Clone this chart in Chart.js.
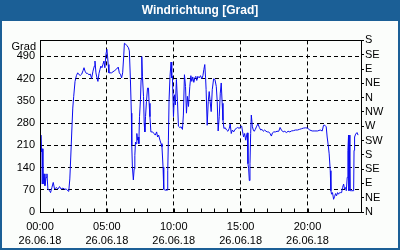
<!DOCTYPE html>
<html>
<head>
<meta charset="utf-8">
<script src="https://cdn.jsdelivr.net/npm/chart.js@4.4.0/dist/chart.umd.min.js"></script>
<style>
  html, body { margin: 0; padding: 0; background: #1b5f96; }
  #wrap { width: 400px; height: 250px; }
</style>
</head>
<body>
<div id="wrap"><canvas id="windChart" width="400" height="250"></canvas></div>
<script>
'use strict';

// time of day in hours (26.06.18) and wind direction in degrees
const hours = [
  0.00, 0.07, 0.12, 0.17, 0.22, 0.30, 0.37, 0.45, 0.52, 0.59, 0.72, 0.79, 0.89, 0.99, 1.09, 1.21, 1.34, 1.46, 1.58, 1.71,
  1.83, 1.96, 2.08, 2.15, 2.23, 2.30, 2.38, 2.45, 2.52, 2.62, 2.72, 2.82, 2.92, 3.02, 3.12, 3.22, 3.29, 3.37, 3.47, 3.56,
  3.66, 3.76, 3.86, 3.96, 4.06, 4.11, 4.18, 4.26, 4.33, 4.41, 4.48, 4.55, 4.63, 4.70, 4.78, 4.85, 4.93, 5.00,
  5.05, 5.10, 5.15, 5.35, 5.55, 5.73, 5.85, 5.93, 6.03, 6.10, 6.18, 6.26, 6.31, 6.41, 6.51, 6.61, 6.68, 6.76, 6.83, 6.86,
  6.91, 6.98, 7.04, 7.09, 7.14, 7.19, 7.24, 7.29, 7.34, 7.39, 7.44, 7.51, 7.56, 7.61, 7.66, 7.74, 7.79, 7.84, 7.89, 7.96,
  8.04, 8.11, 8.16, 8.22, 8.29, 8.42, 8.52, 8.62, 8.72, 8.79, 8.87, 8.97, 9.05, 9.12, 9.20, 9.25, 9.32, 9.42, 9.50, 9.55,
  9.60, 9.65, 9.72, 9.80, 9.85, 9.90,
  9.98, 10.05, 10.12, 10.20, 10.28, 10.35, 10.45, 10.55, 10.65, 10.72, 10.80, 10.88, 10.95, 11.02, 11.10, 11.20, 11.28,
  11.35, 11.42, 11.50, 11.58, 11.65, 11.72, 11.80, 11.90, 12.00, 12.10, 12.18, 12.25, 12.32, 12.38, 12.42, 12.50, 12.58,
  12.65, 12.72, 12.80, 12.88, 12.98, 13.08, 13.18, 13.25, 13.32, 13.40, 13.48, 13.55, 13.62, 13.68, 13.75, 13.85, 13.95,
  14.05, 14.15, 14.22, 14.30, 14.38, 14.48, 14.58, 14.68, 14.78, 14.90,
  15.02, 15.08, 15.15, 15.22, 15.30, 15.38, 15.45, 15.50, 15.55, 15.60, 15.65, 15.70, 15.75, 15.80, 15.88, 15.95, 16.02,
  16.10, 16.20, 16.30, 16.40, 16.50, 16.60, 16.70, 16.80, 16.90, 17.00, 17.10, 17.20, 17.30, 17.38, 17.48, 17.60, 17.72,
  17.85, 17.95, 18.05, 18.18, 18.30, 18.42, 18.55, 18.68, 18.80, 18.95, 19.10, 19.25, 19.40, 19.55, 19.70, 19.85, 20.00,
  20.17, 20.35, 20.55, 20.75, 20.95, 21.10, 21.20, 21.30, 21.40, 21.47, 21.55, 21.62, 21.70, 21.75, 21.80, 21.87, 21.95,
  22.02, 22.10, 22.17, 22.25, 22.32, 22.40, 22.47, 22.55, 22.62, 22.70, 22.77, 22.85, 22.90, 22.97, 23.02, 23.07, 23.10,
  23.17, 23.20, 23.30, 23.45, 23.48, 23.52, 23.60, 23.70, 23.78
];
const degrees = [
  88, 242, 189, 199, 88, 120, 83, 109, 120, 72, 67, 61, 77, 93, 72, 77, 72, 80, 72, 75,
  72, 72, 67, 65, 104, 173, 258, 327, 364, 411, 429, 438, 432, 430, 434, 445, 454, 443, 436, 436,
  432, 434, 420, 443, 459, 475, 438, 422, 411, 436, 448, 459, 454, 464, 475, 454, 496, 512,
  491, 464, 438, 438, 444, 450, 456, 438, 432, 422, 438, 491, 531, 528, 523, 517, 507, 417, 311, 210,
  141, 101, 136, 178, 220, 215, 247, 226, 236, 215, 300, 353, 417, 489, 427, 364, 279, 252, 300, 348,
  390, 390, 342, 300, 252, 252, 247, 242, 252, 236, 242, 226, 215, 205, 141, 72, 69, 69, 69, 130,
  226, 353, 427, 472, 422, 427,
  300, 369, 337, 417, 348, 270, 266, 268, 260, 305, 432, 395, 311, 364, 332, 395, 429,
  411, 425, 408, 422, 427, 414, 427, 422, 429, 419, 429, 448, 464, 422, 385, 273, 348,
  379, 348, 316, 385, 419, 417, 395, 348, 255, 300, 374, 406, 342, 289, 263, 265, 258,
  254, 263, 277, 247, 258, 252, 260, 263, 266, 263,
  270, 270, 252, 236, 247, 226, 242, 249, 152, 136, 99, 152, 247, 305, 268, 258, 254,
  260, 270, 277, 266, 258, 260, 254, 258, 254, 252, 252, 247, 239, 249, 252, 252, 254,
  254, 266, 258, 252, 254, 250, 254, 252, 255, 256, 258, 258, 260, 262, 264, 265, 264,
  258, 255, 255, 255, 258, 255, 273, 273, 268, 236, 210, 183, 130, 67, 56, 61, 40,
  48, 58, 51, 61, 56, 61, 61, 61, 77, 88, 72, 77, 67, 109, 194, 242, 67,
  242, 67, 67, 67, 194, 236, 245, 250, 242
];

const leftTicks = [0, 70, 140, 210, 280, 350, 420, 490];
const rightTicks = [0, 45, 90, 135, 180, 225, 270, 315, 360, 405, 450, 495, 540];
const rightLabels = ['N', 'NE', 'E', 'SE', 'S', 'SW', 'W', 'NW', 'N', 'NE', 'E', 'SE', 'S'];
const timeLabels = { 0: '00:00', 5: '05:00', 10: '10:00', 15: '15:00', 20: '20:00' };
const dateLabel = '26.06.18';

Chart.defaults.font.family = '"Liberation Sans", Arial, sans-serif';
Chart.defaults.font.size = 11;
Chart.defaults.color = '#000';

// blue frame, plot border, hour marks and the "Grad" caption
const framePlugin = {
  id: 'frame',
  beforeDraw(chart) {
    const ctx = chart.ctx;
    ctx.save();
    ctx.fillStyle = '#1b5f96';
    ctx.fillRect(0, 0, chart.width, chart.height);
    ctx.fillStyle = '#fbfdfb';
    ctx.fillRect(2, 21, chart.width - 4, chart.height - 23);
    ctx.restore();
  },
  afterDraw(chart) {
    const ctx = chart.ctx;
    const a = chart.chartArea;
    const xs = chart.scales.x;
    const l = Math.round(a.left) + 0.5;
    const r = Math.round(a.right) + 0.5;
    const t = Math.round(a.top) + 0.5;
    const b = Math.round(a.bottom) + 0.5;
    ctx.save();
    ctx.strokeStyle = '#000';
    ctx.lineWidth = 1;
    ctx.strokeRect(l, t, r - l, b - t);
    ctx.beginPath();
    for (let h = 1; h < 24; h++) {
      const x = Math.round(xs.getPixelForValue(h)) + 0.5;
      ctx.moveTo(x, b);
      ctx.lineTo(x, b - 4);
    }
    ctx.stroke();
    ctx.fillStyle = '#000';
    ctx.font = '11px "Liberation Sans", Arial, sans-serif';
    ctx.textAlign = 'right';
    ctx.textBaseline = 'alphabetic';
    ctx.fillText('Grad', a.left - 4, a.top + 10);
    ctx.restore();
  }
};

new Chart(document.getElementById('windChart'), {
  type: 'line',
  data: {
    datasets: [{
      data: hours.map((h, i) => ({ x: h, y: degrees[i] })),
      borderColor: '#0b0bf0',
      borderWidth: 1,
      pointRadius: 0,
      fill: false,
      tension: 0
    }]
  },
  options: {
    responsive: false,
    animation: false,
    devicePixelRatio: 1,
    layout: { padding: 0 },
    plugins: {
      legend: { display: false },
      tooltip: { enabled: false },
      title: {
        display: true,
        text: 'Windrichtung [Grad]',
        color: '#fff',
        font: { size: 12, weight: 'bold' },
        padding: { top: 3, bottom: 23 }
      }
    },
    scales: {
      x: {
        type: 'linear',
        min: 0,
        max: 24,
        afterFit: s => { s.height = 38; },
        ticks: {
          stepSize: 1,
          autoSkip: false,
          maxRotation: 0,
          padding: 7,
          font: { size: 11, lineHeight: 1.36 },
          callback: v => timeLabels[v] ? [timeLabels[v], dateLabel] : ''
        },
        grid: {
          color: c => (c.tick && c.tick.value % 5 === 0 && c.tick.value > 0 && c.tick.value < 24) ? '#000' : 'transparent',
          drawTicks: false
        },
        border: { display: false, dash: [4, 3] }
      },
      y: {
        position: 'left',
        min: 0,
        max: 540,
        afterBuildTicks: s => { s.ticks = leftTicks.map(v => ({ value: v })); },
        afterFit: s => { s.width = 40; },
        ticks: { padding: 5, autoSkip: false },
        grid: { color: '#000', drawTicks: false },
        border: { display: false, dash: [4, 3] }
      },
      y2: {
        position: 'right',
        min: 0,
        max: 540,
        afterBuildTicks: s => { s.ticks = rightTicks.map(v => ({ value: v })); },
        afterFit: s => { s.width = 39; },
        ticks: { padding: 1, autoSkip: false, callback: (v, i) => rightLabels[i] },
        grid: { drawOnChartArea: false, color: '#000', tickLength: 3 },
        border: { display: false }
      }
    }
  },
  plugins: [framePlugin]
});
</script>
</body>
</html>
